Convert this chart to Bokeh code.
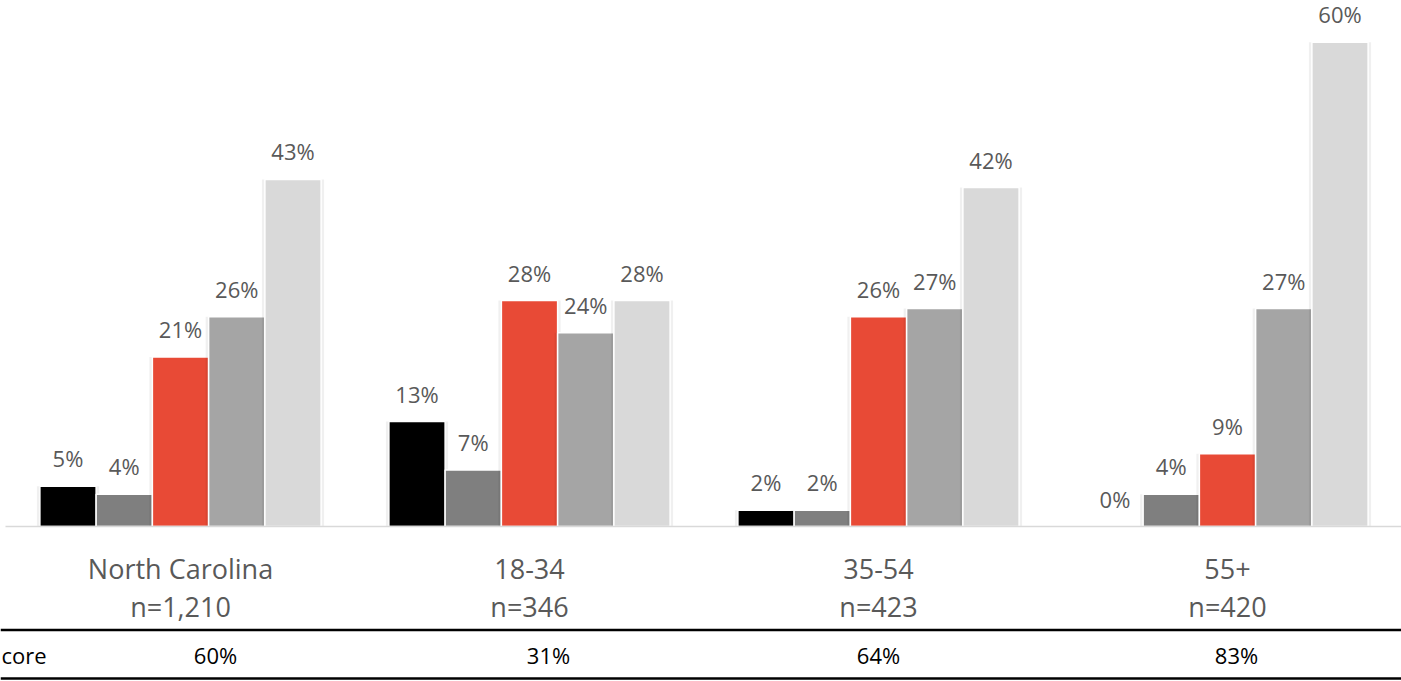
from bokeh.plotting import figure
from bokeh.models import ColumnDataSource, Span
from bokeh.core.properties import value
from bokeh.embed import file_html
from bokeh.resources import INLINE

# ---- data ----
groups = ["North Carolina", "18-34", "35-54", "55+"]
sizes = ["n=1,210", "n=346", "n=423", "n=420"]
series_a = [5, 13, 2, 0]     # black
series_b = [4, 7, 2, 4]      # dark gray
series_c = [21, 28, 26, 9]   # red
series_d = [26, 24, 27, 27]  # mid gray
series_e = [43, 28, 42, 60]  # light gray
score_label = "core"
scores = ["60%", "31%", "64%", "83%"]

series = [series_a, series_b, series_c, series_d, series_e]
colors = ["#000000", "#7f7f7f", "#e84a36", "#a5a5a5", "#d9d9d9"]

W, H = 1401, 681
PX_PER_CAT = 349.0
PX_PER_PCT = 8.07
BASE_PX = 526.0
x0 = -180.0 / PX_PER_CAT
x1 = x0 + W / PX_PER_CAT
y1 = BASE_PX / PX_PER_PCT
y0 = -(H - BASE_PX) / PX_PER_PCT

def ypx(px):
    return -(px - BASE_PX) / PX_PER_PCT

def xpx(px):
    return x0 + px / PX_PER_CAT

p = figure(width=W, height=H, x_range=(x0, x1), y_range=(y0, y1),
           output_backend="svg", toolbar_location=None,
           min_border=0, min_border_left=0, min_border_right=0,
           min_border_top=0, min_border_bottom=0)
p.axis.visible = False
p.grid.visible = False
p.outline_line_color = None
p.background_fill_color = "white"

slot = 56.25 / PX_PER_CAT
font = value("Open Sans")
for j, (vals, col) in enumerate(zip(series, colors)):
    xs = [i + (j - 2) * slot for i in range(len(groups))]
    src = ColumnDataSource(dict(x=xs, top=vals,
                                lab=[f"{v}%" for v in vals]))
    # soft shadow
    p.vbar(x="x", top="top", bottom=0, width=slot + 6 / PX_PER_CAT, source=src,
           fill_color="#000000", fill_alpha=0.06, line_color=None)
    p.vbar(x="x", top="top", bottom=0, width=slot, source=src,
           fill_color=col, line_color="white", line_width=1.5)
    p.text(x="x", y="top", text="lab", source=src, text_font=font,
           text_font_size="22px", text_color="#595959", text_align="center",
           text_baseline="middle", y_offset=-28)

# baseline axis (drawn over bar bottoms)
p.segment(x0=[xpx(5)], y0=[0], x1=[x1], y1=[0], line_color="#d9d9d9", line_width=1.5)

xs_g = list(range(len(groups)))
p.text(x=xs_g, y=[ypx(568)] * 4, text=groups, text_font=font,
       text_font_size="27px", text_color="#595959", text_align="center",
       text_baseline="middle")
p.text(x=xs_g, y=[ypx(606)] * 4, text=sizes, text_font=font,
       text_font_size="27px", text_color="#595959", text_align="center",
       text_baseline="middle")

# table
p.add_layout(Span(location=ypx(629.5), dimension="width", line_color="black", line_width=2.5))
p.add_layout(Span(location=ypx(678), dimension="width", line_color="black", line_width=2.5))
table_x = [xpx(215), xpx(548), xpx(878), xpx(1236)]
p.text(x=table_x, y=[ypx(654)] * 4, text=scores, text_font=font,
       text_font_size="22px", text_color="black", text_align="center",
       text_baseline="middle")
p.text(x=[xpx(1)], y=[ypx(654)], text=[score_label], text_font=font,
       text_font_size="22px", text_color="black", text_align="left",
       text_baseline="middle")

open("out.html", "w").write(file_html(p, INLINE))
